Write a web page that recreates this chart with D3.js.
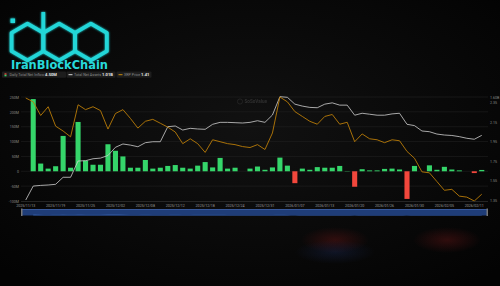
<!DOCTYPE html>
<html lang="en">
<head>
<meta charset="UTF-8">
<title>XRP ETF flows</title>
<style>
  html, body { margin: 0; padding: 0; background: #070707; }
  svg { display: block; }
</style>
</head>
<body>
<script src="https://d3js.org/d3.v7.min.js"></script>
<script>
// trading days shown on the chart
var dates = ["2025/11/13","2025/11/14","2025/11/17","2025/11/18","2025/11/19","2025/11/20","2025/11/21","2025/11/24","2025/11/25","2025/11/26",
  "2025/11/28","2025/12/01","2025/12/02","2025/12/03","2025/12/04","2025/12/05","2025/12/08","2025/12/09","2025/12/10","2025/12/11",
  "2025/12/12","2025/12/15","2025/12/16","2025/12/17","2025/12/18","2025/12/19","2025/12/22","2025/12/23","2025/12/24","2025/12/26",
  "2025/12/29","2025/12/30","2025/12/31","2026/01/02","2026/01/05","2026/01/06","2026/01/07","2026/01/08","2026/01/09","2026/01/12",
  "2026/01/13","2026/01/14","2026/01/15","2026/01/16","2026/01/20","2026/01/21","2026/01/22","2026/01/23","2026/01/26","2026/01/27",
  "2026/01/28","2026/01/29","2026/01/30","2026/02/02","2026/02/03","2026/02/04","2026/02/05","2026/02/06","2026/02/09","2026/02/10",
  "2026/02/11","2026/02/12"];

// daily total net inflow, million USD
var inflow = [null, 243, 26, 9, 17, 119, 12, 166, 36, 22,
  22, 91, 69, 50, 12, 12, 38, 9, 12, 18,
  21, 12, 9, 19, 31, 13, 45, 9, 12, 0,
  9, 16, 5, 13, 46, 19, -40, 9, 5, 14,
  12, 12, 18, 1, -52, 7, 3, 3, 8, 9,
  6, -93, 18, 0, 20, 5, 15, 6, 3, 0,
  -6, 4.5];

// total net assets, billion USD
var netAssets = [0.015, 0.23, 0.24, 0.246, 0.257, 0.365, 0.365, 0.615, 0.62, 0.65,
  0.66, 0.70, 0.826, 0.877, 0.86, 0.835, 0.897, 0.912, 0.912, 1.143,
  1.154, 1.092, 1.118, 1.108, 1.103, 1.18, 1.21, 1.21, 1.205, 1.20,
  1.21, 1.235, 1.21, 1.323, 1.605, 1.595, 1.49, 1.46, 1.44, 1.435,
  1.49, 1.51, 1.475, 1.475, 1.32, 1.35, 1.335, 1.32, 1.32, 1.34,
  1.35, 1.18, 1.16, 1.077, 1.066, 1.03, 1.015, 1.008, 0.99, 0.965,
  0.95, 1.01];

// XRP price, USD
var price = [2.40, 2.36, 2.22, 2.31, 2.11, 2.06, 2.00, 2.33, 2.28, 2.31,
  2.27, 2.08, 2.24, 2.28, 2.19, 2.09, 2.16, 2.18, 2.14, 2.10,
  2.05, 1.93, 1.98, 1.93, 1.84, 1.97, 1.95, 1.93, 1.92, 1.90,
  1.89, 1.92, 1.87, 2.04, 2.41, 2.36, 2.26, 2.21, 2.16, 2.13,
  2.21, 2.23, 2.13, 2.15, 1.95, 2.03, 1.98, 1.97, 1.94, 1.97,
  1.96, 1.85, 1.78, 1.64, 1.63, 1.54, 1.45, 1.46, 1.39, 1.38,
  1.34, 1.41];

var leftTicks = [-100, -50, 0, 50, 100, 150, 200, 250];
var priceTicks = [1.35, 1.55, 1.75, 1.95, 2.15, 2.35];
var assetTicks = [1.6];

var W = 500, H = 286;
var plot = {left: 21, right: 488, top: 97, bottom: 201};

var svg = d3.select("body").append("svg")
  .attr("width", W).attr("height", H);

var defs = svg.append("defs");
var bg = defs.append("radialGradient").attr("id", "bg").attr("cx", "50%").attr("cy", "45%").attr("r", "70%");
bg.append("stop").attr("offset", "0%").attr("stop-color", "#111111");
bg.append("stop").attr("offset", "100%").attr("stop-color", "#030303");

var glowRed = defs.append("radialGradient").attr("id", "glowRed");
glowRed.append("stop").attr("offset", "0%").attr("stop-color", "#5a1414").attr("stop-opacity", 0.5);
glowRed.append("stop").attr("offset", "100%").attr("stop-color", "#5a1414").attr("stop-opacity", 0);
var glowBlue = defs.append("radialGradient").attr("id", "glowBlue");
glowBlue.append("stop").attr("offset", "0%").attr("stop-color", "#1c2c5c").attr("stop-opacity", 0.35);
glowBlue.append("stop").attr("offset", "100%").attr("stop-color", "#1c2c5c").attr("stop-opacity", 0);

var blur = defs.append("filter").attr("id", "cyanGlow").attr("x", "-20%").attr("y", "-20%").attr("width", "140%").attr("height", "140%");
blur.append("feGaussianBlur").attr("stdDeviation", 1.1).attr("result", "b");
var merge = blur.append("feMerge");
merge.append("feMergeNode").attr("in", "b");
merge.append("feMergeNode").attr("in", "SourceGraphic");

svg.append("rect").attr("width", W).attr("height", H).attr("fill", "url(#bg)");

// background glows under the chart
svg.append("ellipse").attr("cx", 335).attr("cy", 240).attr("rx", 34).attr("ry", 13).attr("fill", "url(#glowRed)");
svg.append("ellipse").attr("cx", 447).attr("cy", 240).attr("rx", 34).attr("ry", 13).attr("fill", "url(#glowRed)");
svg.append("ellipse").attr("cx", 335).attr("cy", 252).attr("rx", 40).attr("ry", 12).attr("fill", "url(#glowBlue)");

// ---- logo ----
var logo = svg.append("g").attr("filter", "url(#cyanGlow)");
var hexR = 18.4, hexCy = 42;
var hexCenters = [27.5, 59.2, 90.9];
function hexPoints(cx, cy, r) {
  var pts = [];
  for (var k = 0; k < 6; k++) {
    var a = Math.PI / 180 * (60 * k - 90);
    pts.push([cx + r * Math.cos(a), cy + r * Math.sin(a)]);
  }
  return pts;
}
hexCenters.forEach(function(cx) {
  logo.append("polygon")
    .attr("points", hexPoints(cx, hexCy, hexR).map(function(p) { return p.join(","); }).join(" "))
    .attr("fill", "none")
    .attr("stroke", "#24d6d8")
    .attr("stroke-width", 3.8)
    .attr("stroke-linejoin", "round");
});
// stem of the b
logo.append("line").attr("x1", 43.3).attr("x2", 43.3).attr("y1", 12).attr("y2", 34)
  .attr("stroke", "#24d6d8").attr("stroke-width", 3.8);
// dot of the i
logo.append("rect").attr("x", 10.5).attr("y", 18.5).attr("width", 4.5).attr("height", 4.5)
  .attr("fill", "#24d6d8");

svg.append("text")
  .attr("x", 11).attr("y", 69.4)
  .attr("font-family", "'DejaVu Sans', sans-serif")
  .attr("font-weight", "bold")
  .attr("font-size", 11.6)
  .attr("textLength", 97)
  .attr("lengthAdjust", "spacingAndGlyphs")
  .attr("fill", "#27d9db")
  .text("IranBlockChain");

// ---- legend ----
var legend = svg.append("g").attr("font-family", "Roboto, sans-serif").attr("font-size", 3.7);
var legendItems = [
  {x: 2, w: 64, label: "Daily Total Net Inflow", value: "4.50M", type: "bar"},
  {x: 66.5, w: 49, label: "Total Net Assets", value: "1.01B", type: "white"},
  {x: 116.5, w: 35, label: "XRP Price", value: "1.41", type: "orange"}
];
legendItems.forEach(function(it) {
  var g = legend.append("g").attr("transform", "translate(" + it.x + ",71.6)");
  g.append("rect").attr("width", it.w).attr("height", 6.2).attr("rx", 1).attr("fill", "#1d1d1d");
  if (it.type == "bar") {
    g.append("rect").attr("x", 2.5).attr("y", 1.7).attr("width", 2).attr("height", 1.5).attr("fill", "#e34a3c");
    g.append("rect").attr("x", 2.5).attr("y", 3.2).attr("width", 2).attr("height", 1.5).attr("fill", "#35d56a");
  } else {
    g.append("line").attr("x1", 2).attr("x2", 6).attr("y1", 3.1).attr("y2", 3.1)
      .attr("stroke", it.type == "white" ? "#d6d6d6" : "#c98a0c").attr("stroke-width", 1);
  }
  var t = g.append("text").attr("x", 7.5).attr("y", 4.5);
  t.append("tspan").attr("fill", "#8a8a8a").text(it.label + " ");
  t.append("tspan").attr("fill", "#e8e8e8").attr("font-weight", "bold").attr("font-size", 4.1).text(it.value);
});

// ---- scales ----
var x = d3.scaleBand().domain(dates).range([22, 485.5]).padding(0);
var step = x.step();
var cx = function(d) { return x(d) + step / 2; };
var yL = d3.scaleLinear().domain([-100, 250]).range([plot.bottom, plot.top]);
var yA = d3.scaleLinear().domain([0, 1.6]).range([plot.bottom, plot.top]);
var yP = d3.scaleLinear().domain([1.34, 2.41]).range([plot.bottom, plot.top]);

var rows = dates.map(function(d, i) {
  return {date: d, inflow: inflow[i], assets: netAssets[i], price: price[i]};
});

// gridlines
svg.append("g").selectAll("line")
  .data(leftTicks.filter(function(v) { return v != -100; }))
  .enter().append("line")
  .attr("x1", plot.left).attr("x2", plot.right)
  .attr("y1", function(d) { return yL(d); })
  .attr("y2", function(d) { return yL(d); })
  .attr("stroke", "#222").attr("stroke-width", 0.6);

// watermark
var wm = svg.append("g").attr("opacity", 0.3);
wm.append("circle").attr("cx", 240).attr("cy", 101.5).attr("r", 2.6).attr("fill", "none").attr("stroke", "#666").attr("stroke-width", 0.7);
wm.append("text").attr("x", 244.5).attr("y", 103).attr("font-family", "Roboto, sans-serif")
  .attr("font-size", 4.6).attr("font-weight", "bold").attr("fill", "#777").text("SoSoValue");

// bars
svg.append("g").selectAll("rect")
  .data(rows.filter(function(d) { return d.inflow !== null; }))
  .enter().append("rect")
  .attr("x", function(d) { return x(d.date) + step * 0.16; })
  .attr("width", step * 0.68)
  .attr("y", function(d) { return yL(Math.max(0, d.inflow)); })
  .attr("height", function(d) { return Math.abs(yL(d.inflow) - yL(0)); })
  .attr("fill", function(d) { return d.inflow >= 0 ? "#35d56a" : "#f2473c"; });

// lines
svg.append("path").datum(rows)
  .attr("fill", "none").attr("stroke", "#cfcfcf").attr("stroke-width", 0.8)
  .attr("d", d3.line().x(function(d) { return cx(d.date); }).y(function(d) { return yA(d.assets); }));

svg.append("path").datum(rows)
  .attr("fill", "none").attr("stroke", "#b97c08").attr("stroke-width", 0.9)
  .attr("d", d3.line().x(function(d) { return cx(d.date); }).y(function(d) { return yP(d.price); }));

// axes
var axisFont = "Roboto, sans-serif";
var xAxis = svg.append("g")
  .attr("transform", "translate(0," + plot.bottom + ")")
  .call(d3.axisBottom(x).tickValues(dates.filter(function(d, i) { return i % 4 == 0; })).tickSize(0).tickPadding(3.2));
xAxis.select(".domain").attr("d", "M" + plot.left + ",0.5H" + plot.right).attr("stroke", "#3a3a3a").attr("stroke-width", 0.6);
xAxis.selectAll("text").attr("font-family", axisFont).attr("font-size", 3.6).attr("fill", "#9a9a9a");

var yAxisL = svg.append("g")
  .attr("transform", "translate(" + plot.left + ",0)")
  .call(d3.axisLeft(yL).tickValues(leftTicks).tickSize(0).tickPadding(2)
    .tickFormat(function(d) { return d == 0 ? "0" : d + "M"; }));
yAxisL.select(".domain").remove();
yAxisL.selectAll("text").attr("font-family", axisFont).attr("font-size", 3.6).attr("fill", "#8a8a8a");

var yAxisR = svg.append("g")
  .attr("transform", "translate(" + plot.right + ",0)")
  .call(d3.axisRight(yP).tickValues(priceTicks).tickSize(0).tickPadding(2)
    .tickFormat(d3.format(".2f")));
yAxisR.select(".domain").remove();
yAxisR.selectAll("text").attr("font-family", axisFont).attr("font-size", 3.6).attr("fill", "#8a8a8a");

var yAxisA = svg.append("g")
  .attr("transform", "translate(" + plot.right + ",0)")
  .call(d3.axisRight(yA).tickValues(assetTicks).tickSize(0).tickPadding(2)
    .tickFormat(function(d) { return d3.format(".2f")(d) + "B"; }));
yAxisA.select(".domain").remove();
yAxisA.selectAll("text").attr("font-family", axisFont).attr("font-size", 3.6).attr("fill", "#8a8a8a");

// navigator
var nav = svg.append("g");
var navTop = 209, navH = 6.5;
nav.append("rect").attr("x", 22).attr("y", navTop).attr("width", 465).attr("height", navH).attr("fill", "#1f3d78");
var yN = d3.scaleLinear().domain([0, 250]).range([navTop + navH, navTop + 1]);
nav.append("path").datum(rows.filter(function(d) { return d.inflow !== null; }))
  .attr("fill", "#30559a").attr("opacity", 0.9)
  .attr("d", d3.area()
    .x(function(d) { return cx(d.date); })
    .y0(navTop + navH)
    .y1(function(d) { return yN(Math.max(8, Math.min(60, d.inflow / 2.2 + 20))); })
    .curve(d3.curveBasis));
nav.append("rect").attr("x", 22).attr("y", navTop).attr("width", 465).attr("height", 0.6).attr("fill", "#4a6cb0");
nav.append("rect").attr("x", 21).attr("y", navTop - 0.5).attr("width", 1.5).attr("height", navH + 1).attr("fill", "#777");
nav.append("rect").attr("x", 486.5).attr("y", navTop - 0.5).attr("width", 1.5).attr("height", navH + 1).attr("fill", "#777");
</script>
</body>
</html>
